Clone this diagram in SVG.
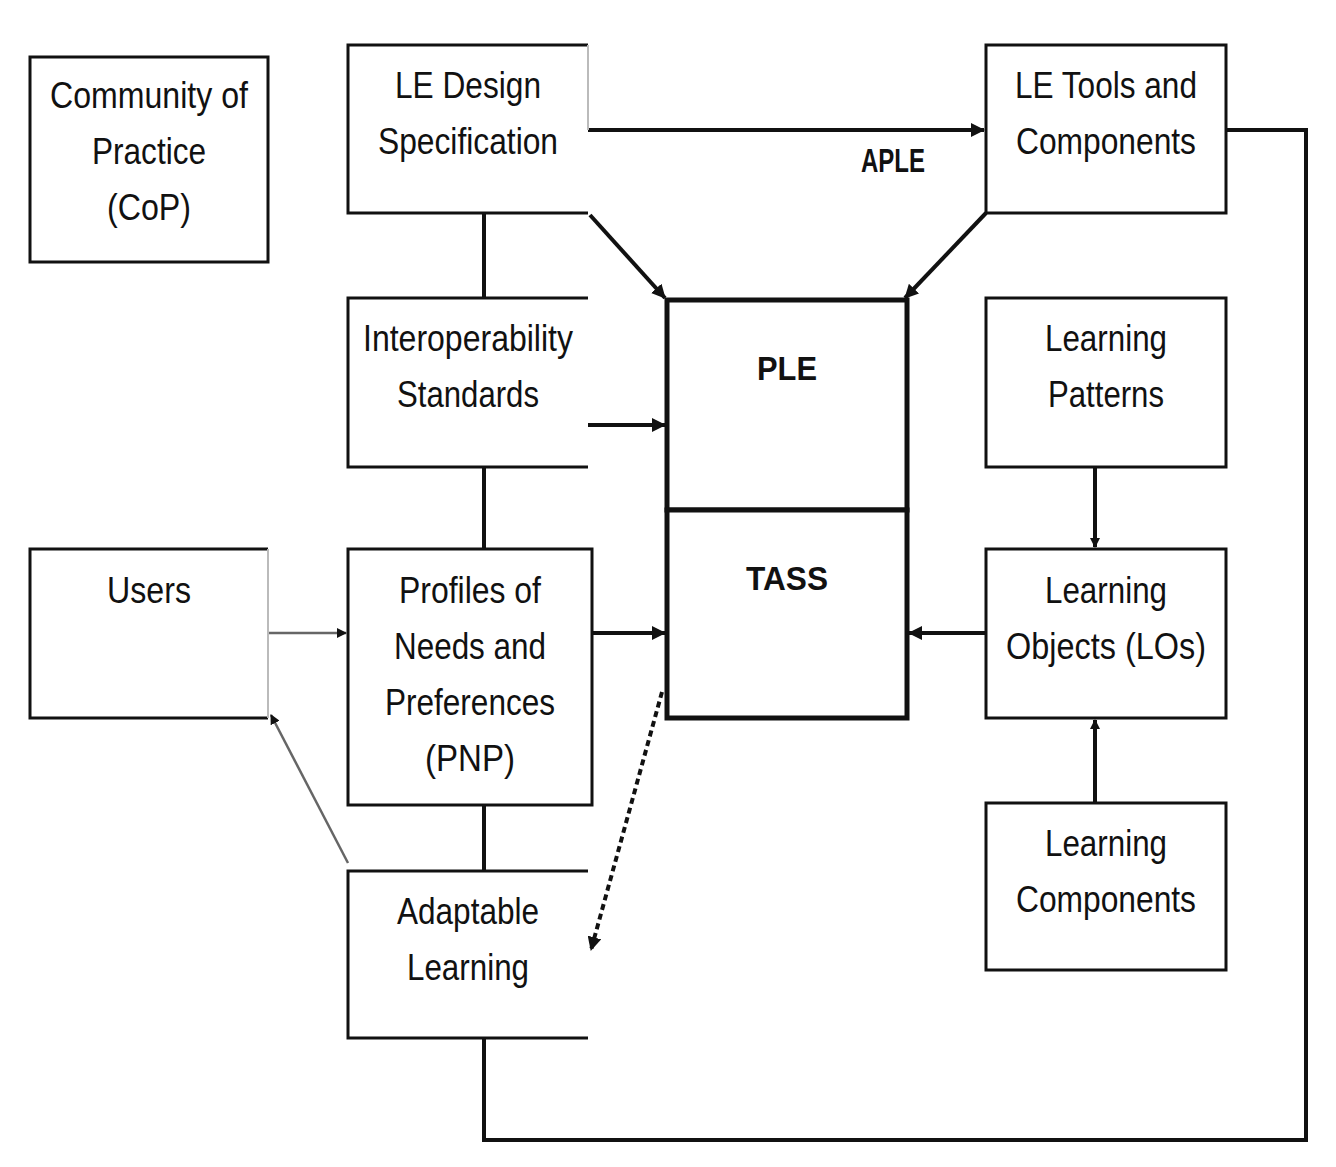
<svg xmlns="http://www.w3.org/2000/svg" width="1336" height="1167" viewBox="0 0 1336 1167">
<style>
.b{fill:#fff;stroke:#111;stroke-width:3}
.t{font-family:"Liberation Sans",Arial,sans-serif;font-size:37px;fill:#111;text-anchor:middle}
.tb{font-family:"Liberation Sans",Arial,sans-serif;font-size:34px;font-weight:bold;fill:#111;text-anchor:middle}
.c{fill:none;stroke:#111;stroke-width:4}
.g{fill:none;stroke:#666;stroke-width:2.5}
</style>
<defs>
<marker id="a" markerWidth="10" markerHeight="10" refX="9" refY="5" orient="auto" markerUnits="userSpaceOnUse"><path d="M0,0 L10,5 L0,10z" fill="#111"/></marker>
<marker id="s" markerWidth="14" markerHeight="14" refX="13" refY="7" orient="auto" markerUnits="userSpaceOnUse"><path d="M0,0 L14,7 L0,14z" fill="#111"/></marker>
</defs>
<rect width="1336" height="1167" fill="#fff"/>
<g id="connectors">
<path class="c" d="M588,130 H984" marker-end="url(#s)"/>
<path class="c" d="M590,215 L665,298" stroke-width="3" marker-end="url(#s)"/>
<path class="c" d="M986,213 L905,298" stroke-width="3" marker-end="url(#s)"/>
<path class="c" d="M484,213 V298 M484,467 V549 M484,805 V871 M484,1038 V1140 H1306 V130 H1226"/>
<path class="c" d="M588,425 H665" stroke-width="3.5" marker-end="url(#s)"/>
<path class="g" d="M268,633 H346" marker-end="url(#a)"/>
<path class="c" d="M592,633 H665" stroke-width="3.5" marker-end="url(#s)"/>
<path class="c" d="M986,633 H909" stroke-width="3.5" marker-end="url(#s)"/>
<path class="c" d="M1095,467 V547" stroke-width="3" marker-end="url(#a)"/>
<path class="c" d="M1095,803 V720" stroke-width="3" marker-end="url(#a)"/>
<path class="c" d="M662,692 L591,950" stroke-width="2.5" stroke-dasharray="6,4" marker-end="url(#s)"/>
<path class="g" d="M348,863 L271,715" marker-end="url(#a)"/>
<text class="tb" x="893" y="172" font-size="30" textLength="64" lengthAdjust="spacingAndGlyphs">APLE</text>
</g>
<g id="cop"><rect x="30" y="57" width="238" height="205" class="b" stroke="#333"/><text class="t" x="149" y="108" textLength="198" lengthAdjust="spacingAndGlyphs">Community of</text><text class="t" x="149" y="164" textLength="114" lengthAdjust="spacingAndGlyphs">Practice</text><text class="t" x="149" y="220" textLength="84" lengthAdjust="spacingAndGlyphs">(CoP)</text></g>
<g id="ledesign"><path class="b" d="M588,45 H348 V213 H588"/><path d="M588,45 V130" stroke="#bbb" stroke-width="2"/><text class="t" x="468" y="98" textLength="146" lengthAdjust="spacingAndGlyphs">LE Design</text><text class="t" x="468" y="154" textLength="180" lengthAdjust="spacingAndGlyphs">Specification</text></g>
<g id="letools"><rect x="986" y="45" width="240" height="168" class="b"/><text class="t" x="1106" y="98" textLength="182" lengthAdjust="spacingAndGlyphs">LE Tools and</text><text class="t" x="1106" y="154" textLength="180" lengthAdjust="spacingAndGlyphs">Components</text></g>
<g id="interop"><path class="b" d="M588,298 H348 V467 H588"/><text class="t" x="468" y="351" textLength="210" lengthAdjust="spacingAndGlyphs">Interoperability</text><text class="t" x="468" y="407" textLength="142" lengthAdjust="spacingAndGlyphs">Standards</text></g>
<g id="ple"><rect x="667" y="300" width="240" height="210" fill="#fff" stroke="#111" stroke-width="5"/><text class="tb" x="787" y="380" font-size="38" textLength="60" lengthAdjust="spacingAndGlyphs">PLE</text></g>
<g id="tass"><rect x="667" y="510" width="240" height="208" fill="#fff" stroke="#111" stroke-width="5"/><text class="tb" x="787" y="590" font-size="38" textLength="82" lengthAdjust="spacingAndGlyphs">TASS</text></g>
<g id="patterns"><rect x="986" y="298" width="240" height="169" class="b"/><text class="t" x="1106" y="351" textLength="122" lengthAdjust="spacingAndGlyphs">Learning</text><text class="t" x="1106" y="407" textLength="116" lengthAdjust="spacingAndGlyphs">Patterns</text></g>
<g id="users"><path class="b" d="M268,549 H30 V718 H268"/><path d="M268,549 V718" stroke="#bbb" stroke-width="2"/><text class="t" x="149" y="603" textLength="84" lengthAdjust="spacingAndGlyphs">Users</text></g>
<g id="pnp"><rect x="348" y="549" width="244" height="256" class="b"/><text class="t" x="470" y="603" textLength="142" lengthAdjust="spacingAndGlyphs">Profiles of</text><text class="t" x="470" y="659" textLength="152" lengthAdjust="spacingAndGlyphs">Needs and</text><text class="t" x="470" y="715" textLength="170" lengthAdjust="spacingAndGlyphs">Preferences</text><text class="t" x="470" y="771" textLength="90" lengthAdjust="spacingAndGlyphs">(PNP)</text></g>
<g id="los"><rect x="986" y="549" width="240" height="169" class="b"/><text class="t" x="1106" y="603" textLength="122" lengthAdjust="spacingAndGlyphs">Learning</text><text class="t" x="1106" y="659" textLength="200" lengthAdjust="spacingAndGlyphs">Objects (LOs)</text></g>
<g id="adaptable"><path class="b" d="M588,871 H348 V1038 H588"/><text class="t" x="468" y="924" textLength="142" lengthAdjust="spacingAndGlyphs">Adaptable</text><text class="t" x="468" y="980" textLength="122" lengthAdjust="spacingAndGlyphs">Learning</text></g>
<g id="components"><rect x="986" y="803" width="240" height="167" class="b"/><text class="t" x="1106" y="856" textLength="122" lengthAdjust="spacingAndGlyphs">Learning</text><text class="t" x="1106" y="912" textLength="180" lengthAdjust="spacingAndGlyphs">Components</text></g>
</svg>
